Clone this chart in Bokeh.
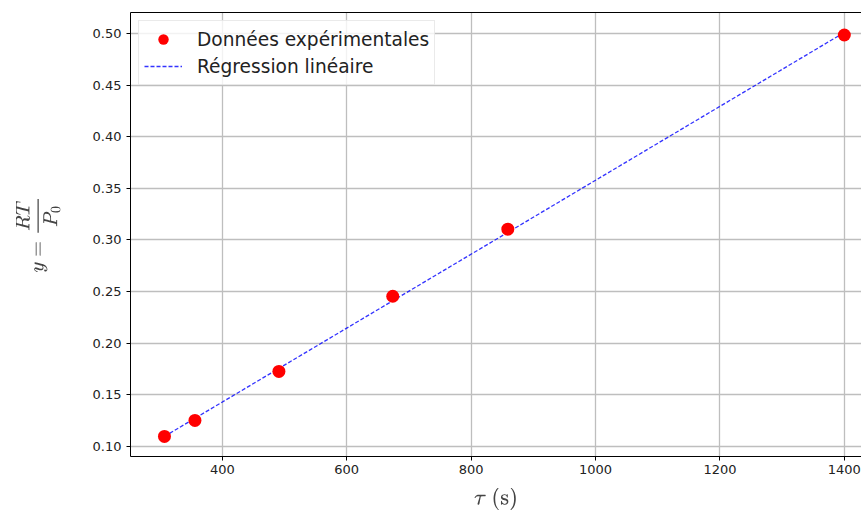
import numpy as np
from bokeh.plotting import figure
from bokeh.models import Range1d, LinearAxis, FixedTicker, Legend, LegendItem, NumeralTickFormatter
from bokeh.embed import file_html
from bokeh.resources import INLINE

# Data
tau = [307, 356, 491, 674, 859, 1400]
y_vals = [0.1097, 0.1252, 0.1727, 0.2455, 0.3105, 0.4985]
x_ticks = [400, 600, 800, 1000, 1200, 1400]
y_ticks = [0.10, 0.15, 0.20, 0.25, 0.30, 0.35, 0.40, 0.45, 0.50]

slope, intercept = np.polyfit(tau, y_vals, 1)
line_x = [min(tau), max(tau)]
line_y = [slope * x + intercept for x in line_x]

p = figure(width=861, height=514, output_backend="svg", toolbar_location=None,
           x_range=Range1d(252.4, 1427.6), y_range=Range1d(0.0903, 0.5203),
           min_border_left=130, min_border_right=0, min_border_top=12, min_border_bottom=58)
p.outline_line_color = None
p.background_fill_color = "white"
p.border_fill_color = "white"

r_line = p.line(line_x, line_y, line_color="blue", line_alpha=0.8, line_width=1.3, line_dash="4 2")
r_pts = p.scatter(tau, y_vals, size=13, fill_color="red", line_color="red", line_width=0)

for ax in (p.xaxis[0], p.yaxis[0]):
    ax.axis_line_color = "black"
    ax.axis_line_width = 1
    ax.major_tick_in = 0
    ax.major_tick_out = 4
    ax.major_tick_line_color = "black"
    ax.minor_tick_line_color = None
    ax.major_label_text_font = "DejaVu Sans"
    ax.major_label_text_font_size = "13px"
    ax.major_label_text_color = "#222222"
    ax.axis_label_text_font_style = "normal"
    ax.major_label_standoff = 5

p.xaxis.major_label_standoff = 4
p.xaxis.ticker = FixedTicker(ticks=x_ticks)
p.yaxis.ticker = FixedTicker(ticks=y_ticks)
p.yaxis.formatter = NumeralTickFormatter(format="0.00")
p.xaxis.axis_label = r"$$\tau\ \text{(s)}$$"
p.yaxis.axis_label = r"$$y = \frac{RT}{P_0}$$"
p.xaxis.axis_label_text_font_size = "18px"
p.yaxis.axis_label_text_font_size = "17px"
p.xaxis.axis_label_standoff = 11
p.yaxis.axis_label_standoff = 29

top = LinearAxis(ticker=FixedTicker(ticks=[]), major_label_text_font_size="0px",
                 axis_line_color="black", major_tick_line_color=None, minor_tick_line_color=None,
                 major_label_standoff=0)
p.add_layout(top, "above")

p.grid.grid_line_color = "#bebebe"
p.grid.grid_line_width = 1.3
p.xgrid.ticker = FixedTicker(ticks=x_ticks)
p.ygrid.ticker = FixedTicker(ticks=y_ticks)

legend = Legend(items=[LegendItem(label="Données expérimentales", renderers=[r_pts]),
                       LegendItem(label="Régression linéaire", renderers=[r_line])],
                location="top_left")
legend.label_text_font = "DejaVu Sans"
legend.label_text_font_size = "18.6px"
legend.label_text_color = "#222222"
legend.border_line_color = "#d5d5d5"
legend.border_line_width = 1
legend.background_fill_alpha = 0.8
legend.margin = 8
legend.padding = 5
legend.spacing = 1
legend.glyph_width = 38
legend.label_standoff = 15
legend.label_height = 26
legend.glyph_height = 26
p.add_layout(legend)

open("out.html", "w").write(file_html(p, INLINE))
